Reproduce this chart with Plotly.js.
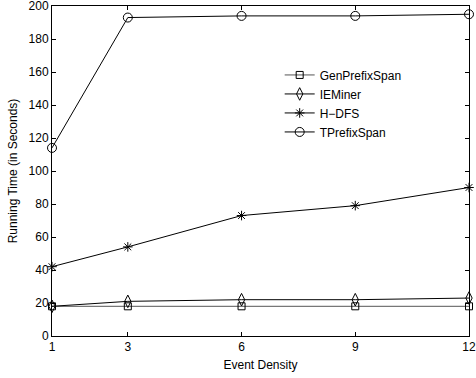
<!DOCTYPE html>
<html><head><meta charset="utf-8">
<script src="https://cdn.plot.ly/plotly-3.0.1.min.js"></script>
<style>html,body{margin:0;padding:0;background:#fff}#chart{width:476px;height:378px}</style>
</head><body><div id="chart"></div>
<script>
const density = [1, 3, 6, 9, 12];
const genPrefixSpan = [18, 18, 18, 18, 18];
const ieMiner = [18, 21, 22, 22, 23];
const hDFS = [42, 54, 73, 79, 90];
const tPrefixSpan = [114, 193, 194, 194, 195];
const seriesNames = ['GenPrefixSpan', 'IEMiner', 'H\u2212DFS', 'TPrefixSpan'];
const xTicks = [1, 3, 6, 9, 12];
const yTicks = [0, 20, 40, 60, 80, 100, 120, 140, 160, 180, 200];

function tr(y, name, symbol, size, color) {
  return {x: density, y: y, name: name, type: 'scatter', mode: 'lines+markers',
    line: {color: color, width: 1},
    marker: {symbol: symbol, size: size, color: '#000', line: {color: '#000', width: 1}},
    cliponaxis: false};
}
const data = [
  tr(genPrefixSpan, seriesNames[0], 'square-open', 7, '#555'),
  tr(ieMiner, seriesNames[1], 'diamond-tall-open', 9, '#000'),
  tr(hDFS, seriesNames[2], 'asterisk-open', 8, '#000'),
  tr(tPrefixSpan, seriesNames[3], 'circle-open', 9, '#000')
];
const ax = {showline: true, linecolor: '#000', linewidth: 1, mirror: 'ticks', ticks: 'inside', ticklen: 4,
  tickcolor: '#000', showgrid: false, zeroline: false, ticklabeloverflow: 'allow',
  tickfont: {family: 'Liberation Sans, Arial', size: 12, color: '#000'}};
const layout = {
  width: 476, height: 378,
  margin: {l: 52, r: 7, t: 6, b: 42},
  paper_bgcolor: '#fff', plot_bgcolor: '#fff',
  font: {family: 'Liberation Sans, Arial', color: '#000'},
  xaxis: Object.assign({}, ax, {range: [1, 12], tickvals: xTicks, ticktext: xTicks.map(String),
    title: {text: 'Event Density', font: {size: 12}, standoff: 7}}),
  yaxis: Object.assign({}, ax, {range: [0, 200.0001], tickvals: yTicks, ticktext: yTicks.map(String),
    title: {text: 'Running Time (in Seconds)', font: {size: 12}, standoff: 8}}),
  showlegend: true,
  legend: {x: 0.546, y: 0.835, xanchor: 'left', yanchor: 'top', bgcolor: 'rgba(0,0,0,0)',
    font: {size: 12, family: 'Liberation Sans, Arial'}, tracegroupgap: 0, itemwidth: 30}
};
Plotly.newPlot('chart', data, layout, {staticPlot: true});
</script></body></html>
